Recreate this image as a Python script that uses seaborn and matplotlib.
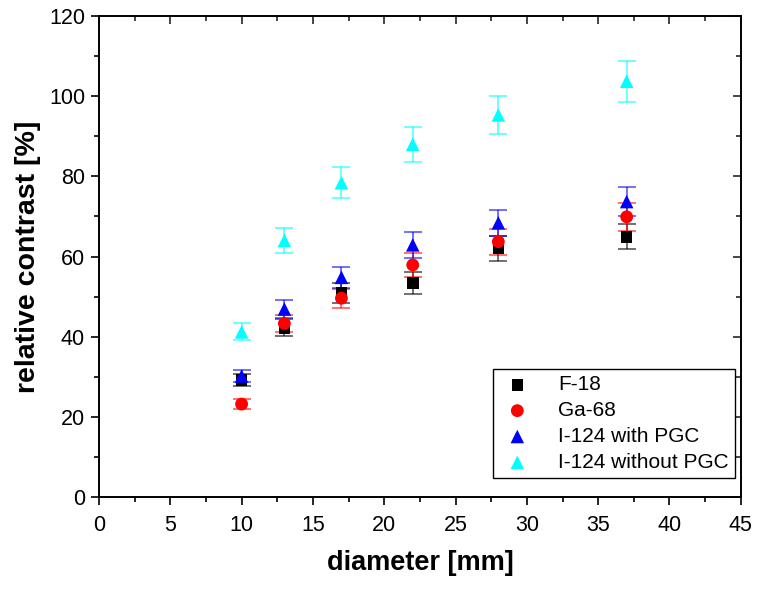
import numpy as np
import pandas as pd
import matplotlib
matplotlib.use("Agg")
import matplotlib.pyplot as plt
from matplotlib.ticker import MultipleLocator
import seaborn as sns

# values
diameter = [10, 13, 17, 22, 28, 37]
f18 = [29.2, 42.2, 50.9, 53.4, 62.1, 64.9]
f18_err = [1.5, 2.1, 2.5, 2.7, 3.1, 3.1]
ga68 = [23.2, 43.3, 49.6, 57.9, 63.7, 69.9]
ga68_err = [1.2, 2.2, 2.4, 2.9, 3.2, 3.5]
i124_pgc = [30.2, 46.9, 54.8, 62.9, 68.4, 73.7]
i124_pgc_err = [1.5, 2.2, 2.7, 3.2, 3.3, 3.6]
i124_nopgc = [41.2, 64.0, 78.4, 88.0, 95.3, 103.7]
i124_nopgc_err = [2.1, 3.1, 3.9, 4.4, 4.75, 5.1]

labels = ["F-18", "Ga-68", "I-124 with PGC", "I-124 without PGC"]
colors = ["#000000", "#ff0000", "#0000ff", "#00ffff"]
markers = ["s", "o", "^", "^"]
sizes = [70, 85, 95, 95]

series = [(f18, f18_err), (ga68, ga68_err), (i124_pgc, i124_pgc_err), (i124_nopgc, i124_nopgc_err)]
rows = []
for lab, (vals, errs) in zip(labels, series):
    for d, v, e in zip(diameter, vals, errs):
        rows.append({"diameter": d, "contrast": v, "err": e, "isotope": lab})
df = pd.DataFrame(rows)

sns.set_style("white")
plt.rcParams["font.family"] = ["Liberation Sans", "DejaVu Sans"]
plt.rcParams["text.color"] = "black"
plt.rcParams["axes.labelcolor"] = "black"

fig = plt.figure(figsize=(7.59, 5.89), dpi=100)
ax = fig.add_axes([0.1304, 0.156, 0.8456, 0.817])

for lab, col, mk, sz in zip(labels, colors, markers, sizes):
    sub = df[df["isotope"] == lab]
    ax.errorbar(sub["diameter"], sub["contrast"], yerr=sub["err"], fmt="none",
                ecolor=col, alpha=0.6, elinewidth=1.3, capsize=6.5, capthick=1.3, zorder=2)
    sns.scatterplot(data=sub, x="diameter", y="contrast", color=col, marker=mk,
                    s=sz, edgecolor="none", linewidth=0, ax=ax, zorder=3, label=lab)

ax.set_xlim(0, 45)
ax.set_ylim(0, 120)
ax.xaxis.set_major_locator(MultipleLocator(5))
ax.xaxis.set_minor_locator(MultipleLocator(2.5))
ax.yaxis.set_major_locator(MultipleLocator(20))
ax.yaxis.set_minor_locator(MultipleLocator(10))

ax.tick_params(which="both", direction="out", bottom=True, left=True, top=False, right=False,
               width=1.2, labelsize=15.5, colors="black")
ax.tick_params(which="major", length=6)
ax.tick_params(which="minor", length=3.5)
ax.tick_params(axis="x", which="major", pad=7)
ax.tick_params(axis="y", which="major", pad=4)

# inward ticks on top and right, no labels
axt = ax.secondary_xaxis("top")
axt.xaxis.set_major_locator(MultipleLocator(5))
axt.xaxis.set_minor_locator(MultipleLocator(2.5))
axt.tick_params(which="both", direction="in", width=1.2, labeltop=False)
axt.tick_params(which="major", length=6)
axt.tick_params(which="minor", length=3.5)
axt.spines["top"].set_visible(False)
axr = ax.secondary_yaxis("right")
axr.yaxis.set_major_locator(MultipleLocator(20))
axr.yaxis.set_minor_locator(MultipleLocator(10))
axr.tick_params(which="both", direction="in", width=1.2, labelright=False)
axr.tick_params(which="major", length=6)
axr.tick_params(which="minor", length=3.5)
axr.spines["right"].set_visible(False)

for s in ax.spines.values():
    s.set_color("black")
    s.set_linewidth(1.4)

ax.set_xlabel("diameter [mm]", fontsize=19.5, fontweight="bold", labelpad=10)
ax.set_ylabel("relative contrast [%]", fontsize=20.5, fontweight="bold", labelpad=6)

leg = ax.legend(loc="lower right", bbox_to_anchor=(0.9907, 0.0395), borderaxespad=0,
                fontsize=15, frameon=True, fancybox=False, edgecolor="black", framealpha=1,
                borderpad=0.3, handletextpad=1.1, labelspacing=0.33, handlelength=1.7)
leg.get_frame().set_linewidth(1.0)

fig.savefig("out.png", dpi=100)
